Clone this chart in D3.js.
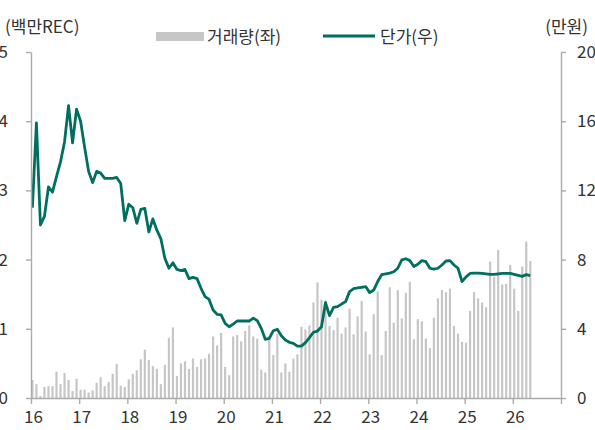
<!DOCTYPE html>
<html>
<head>
<meta charset="utf-8">
<script src="https://cdn.jsdelivr.net/npm/d3@7"></script>
<style>
    body { margin: 0; background: #fff; }
    svg text { font-family: "Noto Sans CJK KR", "Noto Sans", sans-serif; fill: #333; }
</style>
</head>
<body>
<svg id="chart" width="595" height="430"></svg>
<script>
// 월별 거래량 (백만REC), 2016.01 ~ 2026.05
const volume = [
    0.26, 0.20, 0.03, 0.16, 0.17, 0.17, 0.38, 0.20, 0.36, 0.26, 0.10, 0.28,
    0.12, 0.12, 0.08, 0.11, 0.22, 0.30, 0.17, 0.23, 0.35, 0.49, 0.18, 0.16,
    0.27, 0.35, 0.40, 0.56, 0.70, 0.55, 0.46, 0.42, 0.20, 0.48, 0.87, 1.02,
    0.32, 0.50, 0.53, 0.42, 0.57, 0.45, 0.56, 0.57, 0.64, 0.89, 0.76, 0.94,
    0.45, 0.33, 0.89, 0.91, 0.82, 0.97, 1.05, 0.89, 0.86, 0.41, 0.37, 0.85,
    0.62, 0.93, 0.37, 0.50, 0.38, 0.57, 0.63, 1.03, 0.99, 1.05, 1.38, 1.67,
    1.42, 1.41, 1.04, 0.98, 1.16, 0.93, 1.02, 1.29, 0.92, 1.18, 1.40, 0.96,
    0.63, 1.21, 1.54, 0.62, 0.97, 1.60, 1.09, 1.56, 1.15, 1.52, 1.68, 0.85,
    1.14, 1.11, 0.86, 0.72, 1.16, 1.44, 1.56, 1.53, 1.58, 1.04, 0.93, 0.81,
    0.80, 1.26, 1.53, 1.44, 1.38, 1.31, 1.97, 1.75, 2.14, 1.64, 1.65, 1.92,
    1.58, 1.26, 1.90, 2.26, 1.98
]

// 월별 단가 (만원)
const price = [
    11.0, 15.9, 10.0, 10.5, 12.2, 11.9, 12.8, 13.65, 14.8, 16.9, 14.75, 16.7,
    16.0, 14.5, 13.1, 12.45, 13.1, 13.0, 12.7, 12.7, 12.7, 12.75, 12.4, 10.25,
    11.2, 11.0, 10.1, 10.9, 10.96, 9.6, 10.35, 9.7, 9.2, 8.07, 7.5, 7.82,
    7.43, 7.36, 7.43, 6.9, 6.97, 6.9, 6.34, 5.86, 5.7, 5.09, 4.84, 4.8,
    4.31, 4.12, 4.27, 4.45, 4.45, 4.45, 4.45, 4.62, 4.47, 4.03, 3.39, 3.45,
    3.89, 3.97, 3.6, 3.35, 3.22, 3.16, 3.0, 3.0, 3.2, 3.49, 3.8, 3.87,
    4.12, 5.51, 4.76, 5.24, 5.28, 5.43, 5.57, 6.15, 6.32, 6.36, 6.4, 6.44,
    6.09, 6.24, 6.73, 7.13, 7.18, 7.22, 7.3, 7.5, 7.98, 8.05, 7.94, 7.6,
    7.73, 7.94, 7.88, 7.5, 7.45, 7.5, 7.69, 7.92, 7.94, 7.69, 7.5, 6.73,
    7.0, 7.2, 7.22, 7.22, 7.2, 7.18, 7.15, 7.15, 7.18, 7.2, 7.2, 7.2,
    7.15, 7.09, 7.03, 7.13, 7.08
]

const startYear = 2016
const yearTicks = [16, 17, 18, 19, 20, 21, 22, 23, 24, 25, 26, 27]
const leftTicks = [0, 1, 2, 3, 4, 5]
const rightTicks = [0, 4, 8, 12, 16, 20]

const barColor = '#c6c6c6'
const lineColor = '#006f60'
const axisColor = '#ababab'

const svg = d3.select('#chart')

const margin = { left: 31, right: 34, top: 52, bottom: 32 }
const width = 595, height = 430

const x = d3.scaleLinear()
    .domain([2016, 2027])
    .range([margin.left, width - margin.right])

const yLeft = d3.scaleLinear()
    .domain([0, 5])
    .range([height - margin.bottom, margin.top])

const yRight = d3.scaleLinear()
    .domain([0, 20])
    .range([height - margin.bottom, margin.top])

const barW = 2.2
const monthX = i => x(startYear + i / 12) + 0.3

/// bars ////////
svg.append('g')
    .selectAll('rect')
    .data(volume)
    .join('rect')
    .attr('x', (d, i) => monthX(i))
    .attr('y', d => yLeft(d))
    .attr('width', barW)
    .attr('height', d => yLeft(0) - yLeft(d))
    .attr('fill', barColor)

/// price line ////////
const line = d3.line()
    .x((d, i) => monthX(i) + barW / 2)
    .y(d => yRight(d))

svg.append('path')
    .datum(price)
    .attr('d', line)
    .attr('fill', 'none')
    .attr('stroke', lineColor)
    .attr('stroke-width', 2.8)
    .attr('stroke-linejoin', 'round')

/// axes ////////
const styleAxis = g => {
    g.selectAll('path.domain').attr('stroke', axisColor).attr('stroke-width', 1.4)
    g.selectAll('line').attr('stroke', axisColor).attr('stroke-width', 1.4)
    g.selectAll('text').attr('font-size', 17).attr('fill', '#333').attr('font-family', null)
}

svg.append('g')
    .attr('transform', `translate(${margin.left},0)`)
    .call(d3.axisLeft(yLeft).tickValues(leftTicks).tickFormat(d3.format('d'))
        .tickSize(5).tickSizeOuter(0).tickPadding(18))
    .call(styleAxis)

svg.append('g')
    .attr('transform', `translate(${width - margin.right},0)`)
    .call(d3.axisRight(yRight).tickValues(rightTicks).tickFormat(d3.format('d'))
        .tickSize(5).tickSizeOuter(0).tickPadding(11))
    .call(styleAxis)

svg.append('g')
    .attr('transform', `translate(0,${height - margin.bottom})`)
    .call(d3.axisBottom(x).tickValues(yearTicks.map(d => 2000 + d)).tickSize(6).tickSizeOuter(0).tickPadding(7)
        .tickFormat(d => d < 2027 ? String(d - 2000) : ''))
    .call(styleAxis)
    .call(g => g.selectAll('text').attr('dx', 2))

/// units ////////
svg.append('text')
    .attr('x', 5).attr('y', 33)
    .attr('font-size', 17)
    .text('(백만REC)')

svg.append('text')
    .attr('x', 588).attr('y', 33)
    .attr('text-anchor', 'end')
    .attr('font-size', 17)
    .text('(만원)')

/// legend ////////
const legend = svg.append('g')

legend.append('rect')
    .attr('x', 156).attr('y', 32)
    .attr('width', 48).attr('height', 9)
    .attr('fill', barColor)

legend.append('text')
    .attr('x', 207).attr('y', 43)
    .attr('font-size', 17)
    .text('거래량(좌)')

legend.append('line')
    .attr('x1', 323).attr('x2', 375)
    .attr('y1', 36).attr('y2', 36)
    .attr('stroke', lineColor)
    .attr('stroke-width', 2.8)

legend.append('text')
    .attr('x', 380).attr('y', 43)
    .attr('font-size', 17)
    .text('단가(우)')
</script>
</body>
</html>
